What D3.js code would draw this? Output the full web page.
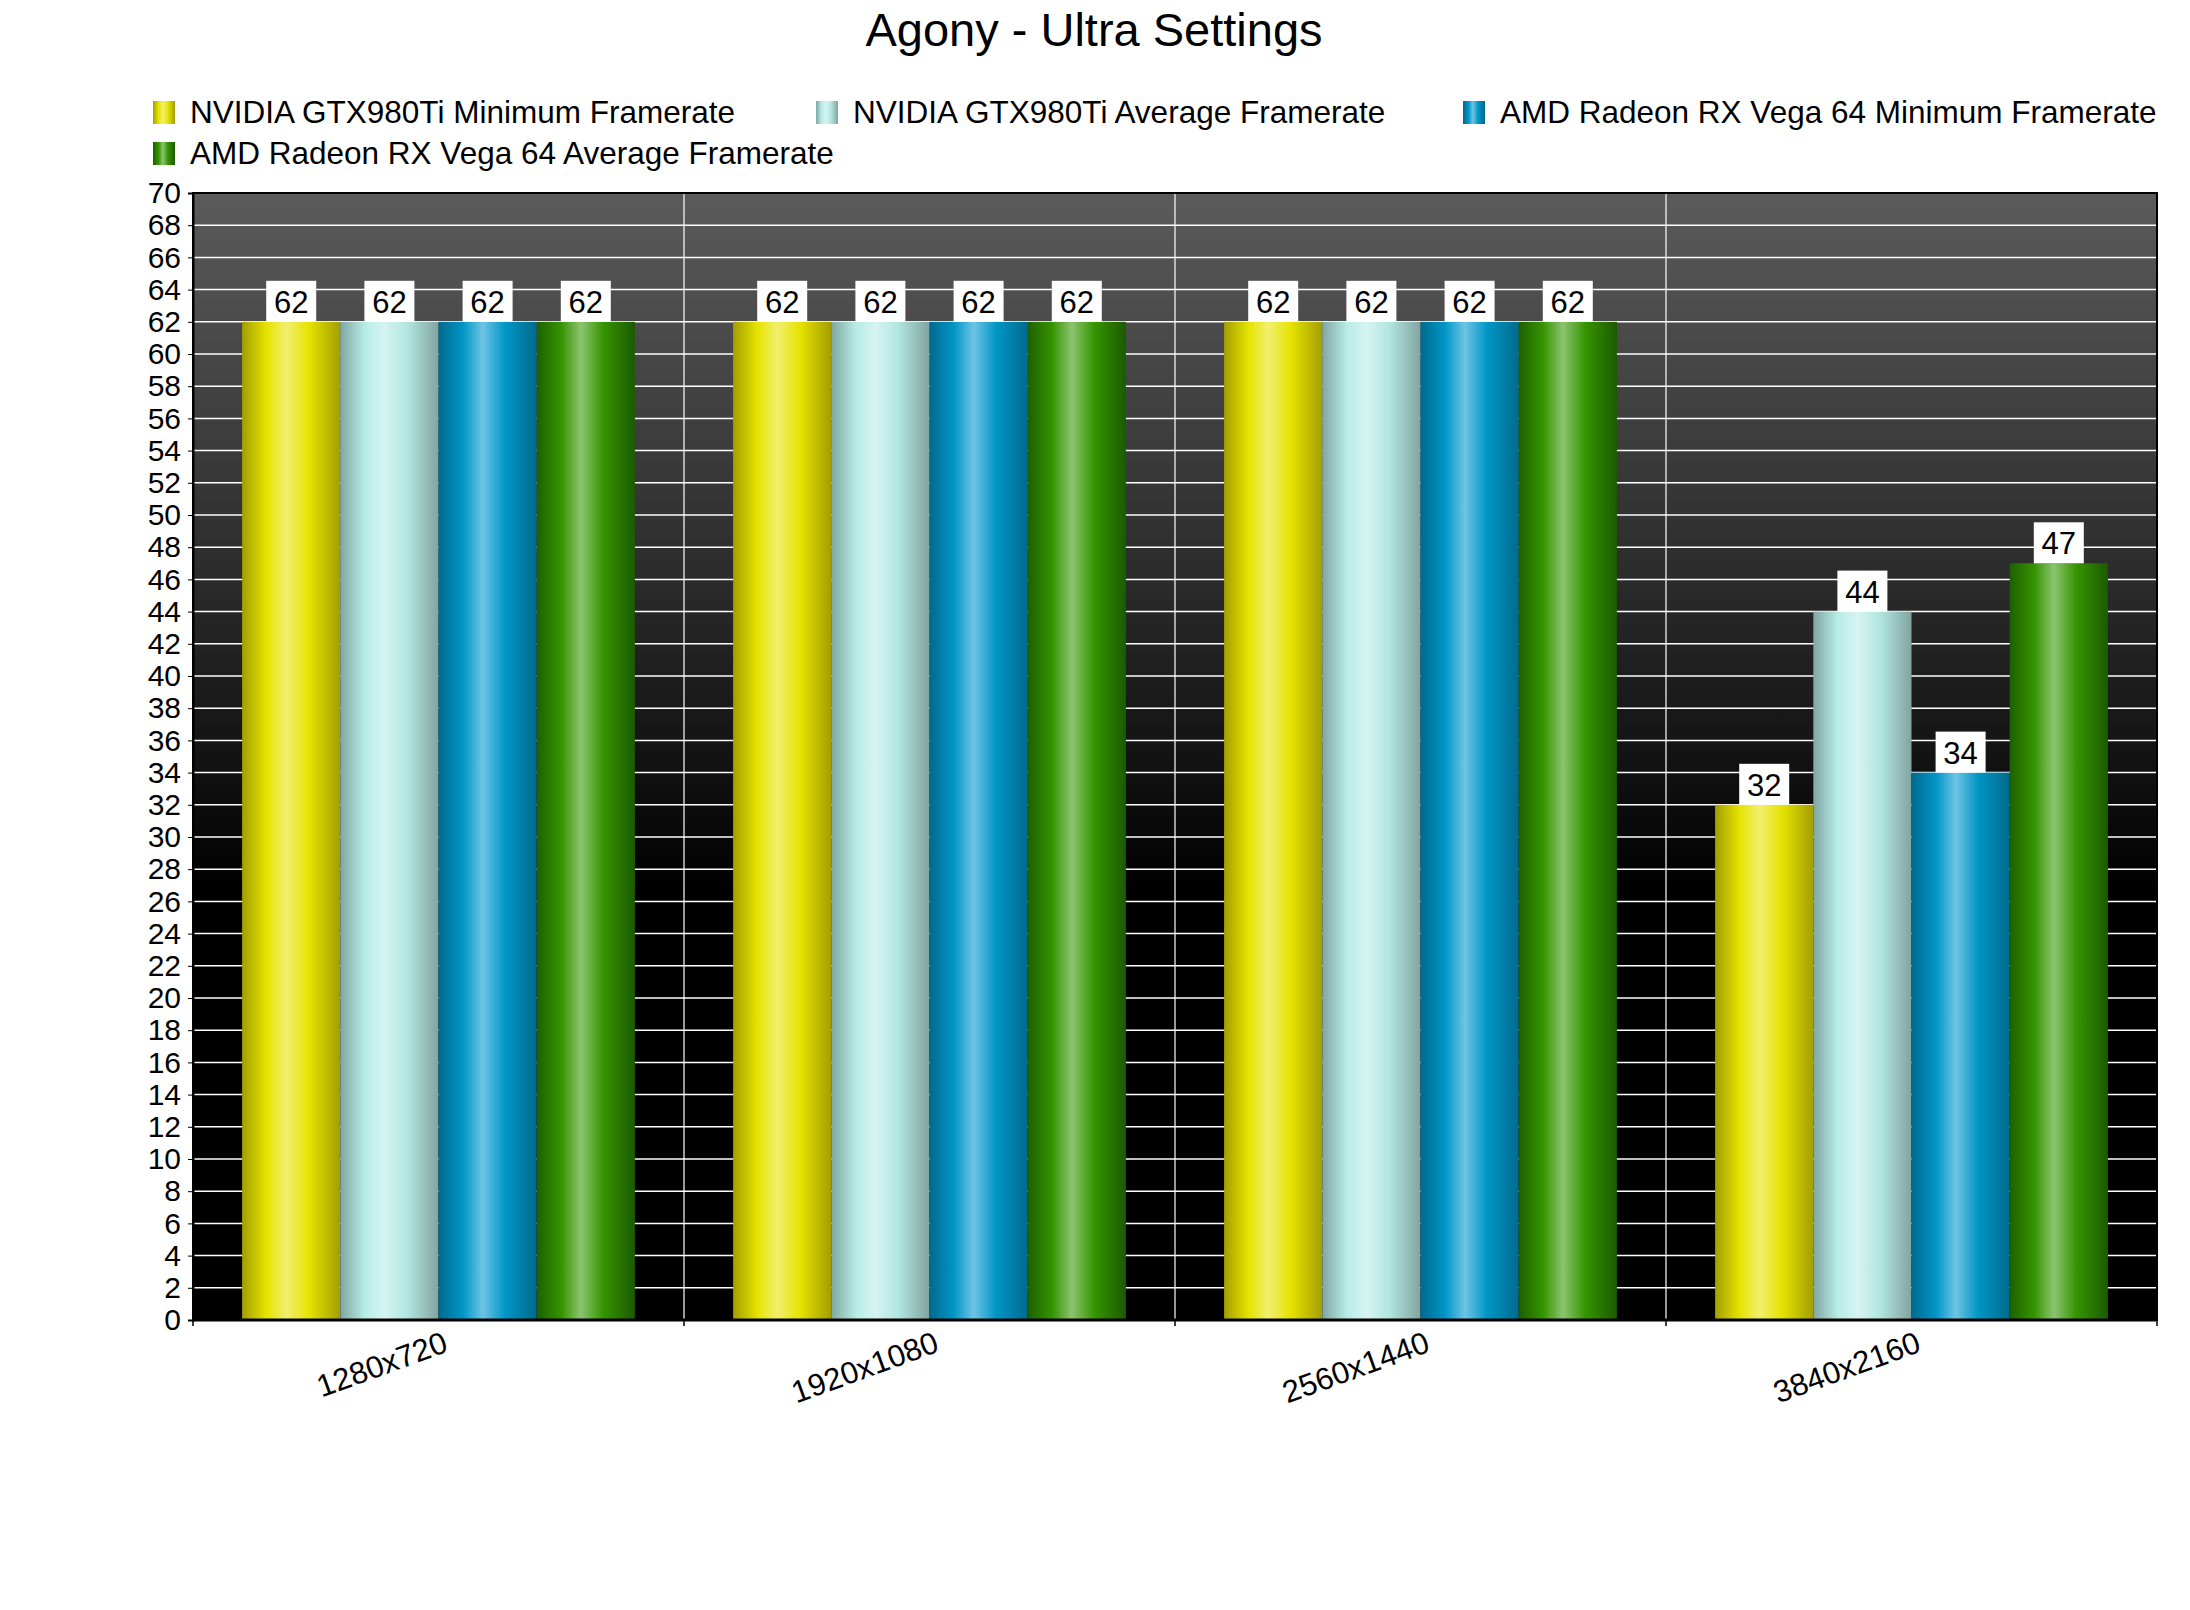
<!DOCTYPE html>
<html>
<head>
<meta charset="utf-8">
<script src="https://cdn.jsdelivr.net/npm/d3@7"></script>
<style>
  body { margin: 0; background: #fff; }
  text { font-family: "Liberation Sans", Arial, sans-serif; }
</style>
</head>
<body>
<svg id="chart"></svg>
<script>
var W = 2190, H = 1610;

var categories = ["1280x720", "1920x1080", "2560x1440", "3840x2160"];
var seriesNames = [
  "NVIDIA GTX980Ti Minimum Framerate",
  "NVIDIA GTX980Ti Average Framerate",
  "AMD Radeon RX Vega 64 Minimum Framerate",
  "AMD Radeon RX Vega 64 Average Framerate"
];
var gtxMin = [62, 62, 62, 32];
var gtxAvg = [62, 62, 62, 44];
var vegaMin = [62, 62, 62, 34];
var vegaAvg = [62, 62, 62, 47];
var yTicks = [0, 2, 4, 6, 8, 10, 12, 14, 16, 18, 20, 22, 24, 26, 28, 30, 32, 34,
  36, 38, 40, 42, 44, 46, 48, 50, 52, 54, 56, 58, 60, 62, 64, 66, 68, 70];

var allValues = [gtxMin, gtxAvg, vegaMin, vegaAvg];

// cylinder-like horizontal gradients: edge, mid, highlight, mid, edge
var gradStops = [
  ["#a39e00", "#e6e300", "#f2ef70", "#e6e300", "#a39e00"],
  ["#80a6a2", "#b8ece6", "#d6f4f2", "#b2e6e0", "#82a4a0"],
  ["#006a8e", "#0096c6", "#6ec4e4", "#0096c6", "#006a8e"],
  ["#1e6000", "#359400", "#8cc470", "#359400", "#1c5a00"]
];

var plotLeft = 193, plotRight = 2157, plotTop = 193, plotBottom = 1320;

var svg = d3.select("#chart").attr("width", W).attr("height", H);
svg.append("rect").attr("width", W).attr("height", H).attr("fill", "#fff");

var defs = svg.append("defs");
var bg = defs.append("linearGradient").attr("id", "bg")
  .attr("x1", 0).attr("x2", 0).attr("y1", 0).attr("y2", 1);
bg.append("stop").attr("offset", "0%").attr("stop-color", "#5b5b5b");
bg.append("stop").attr("offset", "35%").attr("stop-color", "#2a2a2a");
bg.append("stop").attr("offset", "62%").attr("stop-color", "#000");
bg.append("stop").attr("offset", "100%").attr("stop-color", "#000");

gradStops.forEach(function(cols, i) {
  var g = defs.append("linearGradient").attr("id", "g" + i)
    .attr("x1", 0).attr("x2", 1).attr("y1", 0).attr("y2", 0);
  [0, 0.25, 0.45, 0.68, 1].forEach(function(o, j) {
    g.append("stop").attr("offset", o).attr("stop-color", cols[j]);
  });
});

var x = d3.scaleBand().domain(categories).range([plotLeft, plotRight]);
var xs = d3.scaleBand().domain(seriesNames).range([0, x.bandwidth()]).paddingOuter(0.5);
var y = d3.scaleLinear().domain([0, 70]).range([plotBottom, plotTop]);

// plot background
svg.append("rect")
  .attr("x", plotLeft).attr("y", plotTop)
  .attr("width", plotRight - plotLeft).attr("height", plotBottom - plotTop)
  .attr("fill", "url(#bg)");

// grid
svg.append("g").selectAll("line")
  .data(yTicks.filter(function(d) { return d > 0 && d < 70; }))
  .enter().append("line")
  .attr("x1", plotLeft).attr("x2", plotRight)
  .attr("y1", function(d) { return y(d); }).attr("y2", function(d) { return y(d); })
  .attr("stroke", "#fff").attr("stroke-width", 1.5);

svg.append("g").selectAll("line")
  .data(categories.slice(1))
  .enter().append("line")
  .attr("x1", function(d) { return x(d); }).attr("x2", function(d) { return x(d); })
  .attr("y1", plotTop).attr("y2", plotBottom)
  .attr("stroke", "#fff").attr("stroke-width", 1.2);

// bars
var groups = svg.append("g").selectAll("g")
  .data(categories)
  .enter().append("g")
  .attr("transform", function(d) { return "translate(" + x(d) + ",0)"; });

groups.each(function(cat, ci) {
  var g = d3.select(this);
  seriesNames.forEach(function(s, si) {
    var v = allValues[si][ci];
    g.append("rect")
      .attr("x", xs(s)).attr("width", xs.bandwidth())
      .attr("y", y(v)).attr("height", y(0) - y(v))
      .attr("fill", "url(#g" + si + ")");
  });
  seriesNames.forEach(function(s, si) {
    var v = allValues[si][ci];
    var cx = xs(s) + xs.bandwidth() / 2;
    g.append("rect")
      .attr("x", cx - 25).attr("width", 50)
      .attr("y", y(v) - 41).attr("height", 41)
      .attr("fill", "#fff");
    g.append("text")
      .attr("x", cx).attr("y", y(v) - 9)
      .attr("text-anchor", "middle")
      .attr("font-size", 31)
      .attr("fill", "#000")
      .text(v);
  });
});

// plot border
svg.append("rect")
  .attr("x", plotLeft).attr("y", plotTop)
  .attr("width", plotRight - plotLeft).attr("height", plotBottom - plotTop)
  .attr("fill", "none").attr("stroke", "#000").attr("stroke-width", 2);

// y axis
var yAxis = svg.append("g")
  .attr("transform", "translate(" + plotLeft + ",0)")
  .call(d3.axisLeft(y).tickValues(yTicks).tickSize(5).tickPadding(7));
yAxis.select(".domain").attr("stroke-width", 2);
yAxis.selectAll("text").attr("font-size", 30).attr("fill", "#000")
  .style("font-family", "'Liberation Sans', Arial, sans-serif");

// x axis line and ticks
svg.append("line")
  .attr("x1", plotLeft).attr("x2", plotRight).attr("y1", plotBottom).attr("y2", plotBottom)
  .attr("stroke", "#000").attr("stroke-width", 3);
svg.append("g").selectAll("line")
  .data(categories.concat(["end"]))
  .enter().append("line")
  .attr("x1", function(d) { return d === "end" ? plotRight : x(d); })
  .attr("x2", function(d) { return d === "end" ? plotRight : x(d); })
  .attr("y1", plotBottom).attr("y2", plotBottom + 6)
  .attr("stroke", "#000").attr("stroke-width", 1.5);

svg.append("g").selectAll("text")
  .data(categories)
  .enter().append("text")
  .attr("transform", function(d) {
    return "translate(" + (x(d) + x.bandwidth() / 2 + 11) + ",1351) rotate(-20)";
  })
  .attr("text-anchor", "end")
  .attr("font-size", 31)
  .attr("fill", "#000")
  .text(function(d) { return d; });

// title
svg.append("text")
  .attr("x", 1094).attr("y", 46)
  .attr("text-anchor", "middle")
  .attr("font-size", 47)
  .attr("fill", "#000")
  .text("Agony - Ultra Settings");

// legend
var legendPos = [[153, 123], [816, 123], [1463, 123], [153, 164]];
var legend = svg.append("g").selectAll("g")
  .data(seriesNames)
  .enter().append("g")
  .attr("transform", function(d, i) {
    return "translate(" + legendPos[i][0] + "," + legendPos[i][1] + ")";
  });
legend.append("rect")
  .attr("x", 0).attr("y", -22).attr("width", 22).attr("height", 23)
  .attr("fill", function(d, i) { return "url(#g" + i + ")"; });
legend.append("text")
  .attr("x", 37).attr("y", 0)
  .attr("font-size", 31.5)
  .attr("fill", "#000")
  .text(function(d) { return d; });
</script>
</body>
</html>
